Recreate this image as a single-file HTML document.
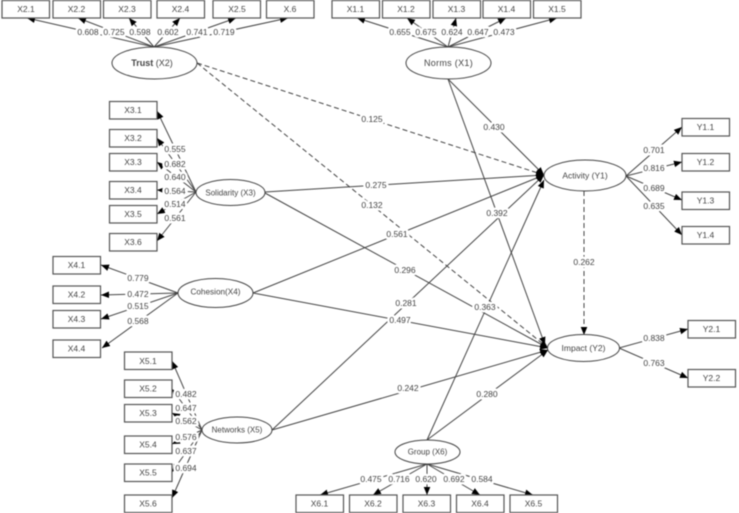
<!DOCTYPE html>
<html>
<head>
<meta charset="utf-8">
<style>
html,body{margin:0;padding:0;background:#fff;width:739px;height:513px;overflow:hidden}
svg{display:block;filter:blur(.45px)}
text{font-family:"Liberation Sans",sans-serif;font-size:8.5px;fill:#444;text-anchor:middle;dominant-baseline:central}
.l line{stroke:#444;stroke-width:1;marker-end:url(#a)}
.l line.d{stroke-dasharray:5 3}
.v text{stroke:#fff;stroke-width:5;paint-order:stroke;stroke-linejoin:round}
rect{fill:#fff;stroke:#555;stroke-width:1.2;width:47.5px;height:17.5px}
ellipse{fill:#fff;stroke:#444;stroke-width:1}
</style>
</head>
<body>
<svg width="739" height="513" viewBox="0 0 739 513" xmlns="http://www.w3.org/2000/svg">
<defs>
<marker id="a" markerUnits="userSpaceOnUse" markerWidth="9" markerHeight="7" refX="8" refY="3.5" orient="auto">
<path d="M0,0.2 L8,3.5 L0,6.800 z" fill="#000"/>
</marker>
</defs>
<g class="l">
<line x1="154" y1="47" x2="27" y2="18"/>
<line x1="154" y1="47" x2="78" y2="18"/>
<line x1="154" y1="47" x2="129" y2="18"/>
<line x1="154" y1="47" x2="180" y2="18"/>
<line x1="154" y1="47" x2="236" y2="18"/>
<line x1="154" y1="47" x2="288" y2="18"/>
<line x1="448" y1="47" x2="357" y2="18"/>
<line x1="448" y1="47" x2="407" y2="18"/>
<line x1="448" y1="47" x2="456" y2="18"/>
<line x1="448" y1="47" x2="506" y2="18"/>
<line x1="448" y1="47" x2="557" y2="18"/>
<line x1="196" y1="192" x2="157" y2="111"/>
<line x1="196" y1="192" x2="157" y2="138"/>
<line x1="196" y1="192" x2="157" y2="162"/>
<line x1="196" y1="192" x2="157" y2="190"/>
<line x1="196" y1="192" x2="157" y2="214"/>
<line x1="196" y1="192" x2="157" y2="241"/>
<line x1="178" y1="293" x2="101" y2="265"/>
<line x1="178" y1="293" x2="101" y2="295"/>
<line x1="178" y1="293" x2="101" y2="319"/>
<line x1="178" y1="293" x2="102" y2="348"/>
<line x1="202" y1="430" x2="172" y2="361"/>
<line x1="202" y1="430" x2="172" y2="389"/>
<line x1="202" y1="430" x2="172" y2="413"/>
<line x1="202" y1="430" x2="172" y2="444"/>
<line x1="202" y1="430" x2="172" y2="472"/>
<line x1="202" y1="430" x2="172" y2="498"/>
<line x1="626" y1="176" x2="682" y2="127"/>
<line x1="626" y1="176" x2="682" y2="162"/>
<line x1="626" y1="176" x2="682" y2="200"/>
<line x1="626" y1="176" x2="682" y2="235"/>
<line x1="619" y1="348" x2="688" y2="329"/>
<line x1="619" y1="348" x2="688" y2="378"/>
<line x1="427" y1="464" x2="320" y2="495"/>
<line x1="427" y1="464" x2="373" y2="495"/>
<line x1="427" y1="464" x2="427" y2="495"/>
<line x1="427" y1="464" x2="480" y2="495"/>
<line x1="427" y1="464" x2="533" y2="495"/>
<line class="d" x1="197" y1="63" x2="544" y2="175"/>
<line class="d" x1="197" y1="63" x2="548" y2="348"/>
<line x1="448" y1="79" x2="544" y2="175"/>
<line x1="448" y1="79" x2="545" y2="345"/>
<line x1="265" y1="192" x2="544" y2="175"/>
<line x1="265" y1="193" x2="548" y2="348"/>
<line x1="253" y1="293" x2="544" y2="175"/>
<line x1="253" y1="293" x2="548" y2="348"/>
<line x1="272" y1="430" x2="544" y2="175"/>
<line x1="272" y1="430" x2="548" y2="350"/>
<line x1="427" y1="440" x2="544" y2="180"/>
<line x1="427" y1="440" x2="548" y2="350"/>
<line class="d" x1="584" y1="191" x2="584" y2="335"/>
</g>
<g class="v">
<text x="88" y="32">0.608</text><text x="114" y="32">0.725</text><text x="140" y="32">0.598</text><text x="168" y="32">0.602</text><text x="197" y="32">0.741</text><text x="224" y="32">0.719</text>
<text x="400" y="32">0.655</text><text x="426" y="32">0.675</text><text x="452" y="32">0.624</text><text x="478" y="32">0.647</text><text x="504" y="32">0.473</text>
<text x="175" y="149">0.555</text><text x="175" y="164">0.682</text><text x="175" y="177">0.640</text><text x="175" y="191">0.564</text><text x="175" y="204">0.514</text><text x="175" y="218">0.561</text>
<text x="138" y="278">0.779</text><text x="138" y="294">0.472</text><text x="138" y="306">0.515</text><text x="138" y="321">0.568</text>
<text x="186" y="394">0.482</text><text x="186" y="408">0.647</text><text x="186" y="421">0.562</text><text x="186" y="437">0.576</text><text x="186" y="451">0.637</text><text x="186" y="468">0.694</text>
<text x="654" y="150">0.701</text><text x="654" y="168">0.816</text><text x="654" y="188">0.689</text><text x="654" y="206">0.635</text>
<text x="654" y="338">0.838</text><text x="654" y="363">0.763</text>
<text x="371" y="479">0.475</text><text x="399" y="479">0.716</text><text x="426" y="479">0.620</text><text x="454" y="479">0.692</text><text x="482" y="479">0.584</text>
<text x="372" y="119">0.125</text><text x="372" y="205">0.132</text><text x="494" y="127">0.430</text><text x="497" y="213">0.392</text>
<text x="376" y="185">0.275</text><text x="405" y="270">0.296</text><text x="397" y="234">0.561</text><text x="400" y="320">0.497</text>
<text x="406" y="303">0.281</text><text x="408" y="388">0.242</text><text x="485" y="307">0.363</text><text x="487" y="394">0.280</text>
<text x="584" y="262">0.262</text>
</g>
<g>
<rect x="2" y="0.5"/><text x="26" y="9">X2.1</text>
<rect x="53" y="0.5"/><text x="76.500" y="9">X2.2</text>
<rect x="103.500" y="0.5"/><text x="127" y="9">X2.3</text>
<rect x="157" y="0.5"/><text x="180.500" y="9">X2.4</text>
<rect x="213" y="0.5"/><text x="237" y="9">X2.5</text>
<rect x="266.500" y="0.5"/><text x="290" y="9">X.6</text>
<rect x="332" y="0.5"/><text x="355.500" y="9">X1.1</text>
<rect x="382.500" y="0.5"/><text x="406" y="9">X1.2</text>
<rect x="433" y="0.5"/><text x="456.500" y="9">X1.3</text>
<rect x="483" y="0.5"/><text x="506.500" y="9">X1.4</text>
<rect x="533.500" y="0.5"/><text x="557" y="9">X1.5</text>
<rect x="109.500" y="101.500"/><text x="133" y="110">X3.1</text>
<rect x="109.500" y="129.500"/><text x="133" y="138">X3.2</text>
<rect x="109.500" y="153.500"/><text x="133" y="162">X3.3</text>
<rect x="109.500" y="181.500"/><text x="133" y="190">X3.4</text>
<rect x="109.500" y="205.500"/><text x="133" y="214">X3.5</text>
<rect x="109.500" y="233.500"/><text x="133" y="242">X3.6</text>
<rect x="53" y="256.500"/><text x="76.500" y="265">X4.1</text>
<rect x="53" y="286"/><text x="76.500" y="294.500">X4.2</text>
<rect x="53" y="310.500"/><text x="76.500" y="319">X4.3</text>
<rect x="53" y="340"/><text x="76.500" y="348.500">X4.4</text>
<rect x="124.500" y="352"/><text x="148" y="361">X5.1</text>
<rect x="124.500" y="380"/><text x="148" y="388.500">X5.2</text>
<rect x="124.500" y="404.500"/><text x="148" y="413">X5.3</text>
<rect x="124.500" y="436"/><text x="148" y="444.500">X5.4</text>
<rect x="124.500" y="464"/><text x="148" y="472.500">X5.5</text>
<rect x="124.500" y="495"/><text x="148" y="503.500">X5.6</text>
<rect x="682" y="118.500"/><text x="705.500" y="127">Y1.1</text>
<rect x="682" y="153.500"/><text x="705.500" y="162">Y1.2</text>
<rect x="682" y="192"/><text x="705.500" y="200.500">Y1.3</text>
<rect x="682" y="226.500"/><text x="705.500" y="235">Y1.4</text>
<rect x="688" y="320.500"/><text x="711.500" y="329">Y2.1</text>
<rect x="688" y="369.500"/><text x="711.500" y="378">Y2.2</text>
<rect x="296" y="495"/><text x="319.500" y="503.500">X6.1</text>
<rect x="349.500" y="495"/><text x="373" y="503.500">X6.2</text>
<rect x="403" y="495"/><text x="426.500" y="503.500">X6.3</text>
<rect x="456.500" y="495"/><text x="480" y="503.500">X6.4</text>
<rect x="510" y="495"/><text x="533.500" y="503.500">X6.5</text>
<ellipse cx="154.500" cy="63" rx="42.500" ry="16"/><text x="152" y="63" style="font-size:9px"><tspan font-weight="bold">Trust</tspan> (X2)</text>
<ellipse cx="448.500" cy="63" rx="42.500" ry="16"/><text x="448.500" y="63" style="font-size:9px;letter-spacing:.3px">Norms (X1)</text>
<ellipse cx="230.500" cy="192.500" rx="34.500" ry="13"/><text x="230.500" y="193" style="font-size:8px">Solidarity (X3)</text>
<ellipse cx="215.500" cy="293" rx="37.500" ry="14.500"/><text x="215.500" y="292" style="font-size:8.2px">Cohesion(X4)</text>
<ellipse cx="237" cy="430" rx="35" ry="13"/><text x="237" y="430" style="font-size:8px">Networks (X5)</text>
<ellipse cx="585" cy="175.500" rx="41" ry="15.500"/><text x="585" y="175.500">Activity (Y1)</text>
<ellipse cx="583.500" cy="348" rx="36" ry="13.500"/><text x="583.500" y="348">Impact (Y2)</text>
<ellipse cx="427.500" cy="452" rx="32.500" ry="12"/><text x="427.500" y="452" style="font-size:8px">Group (X6)</text>
</g>
</svg>
</body>
</html>
